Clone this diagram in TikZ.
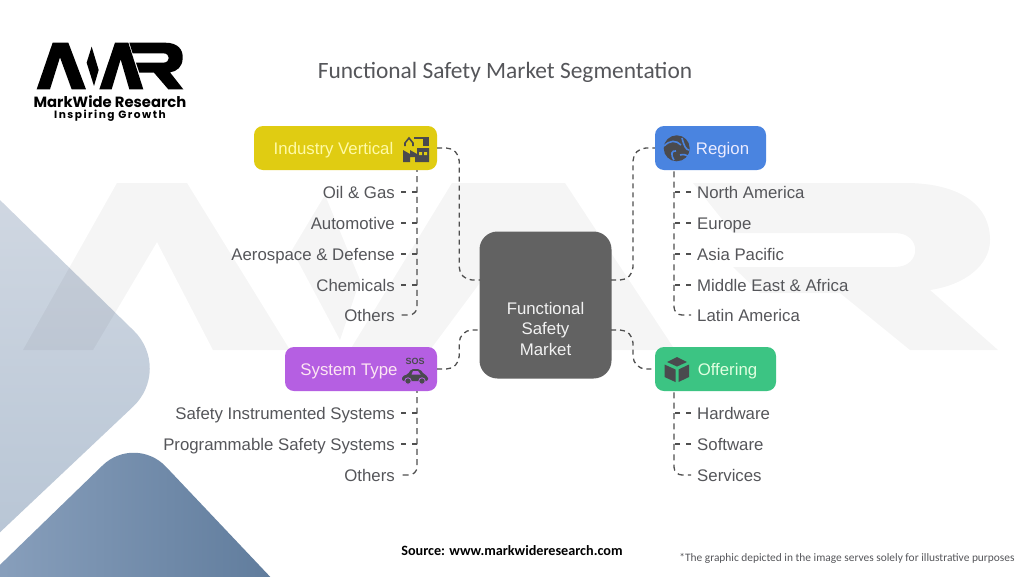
\documentclass[tikz,border=0pt]{standalone}
\usepackage{fontspec}
\setmainfont{Liberation Sans}
\newfontfamily\carlitofont{Carlito}
\newfontfamily\poppinsfont{Poppins}
\newfontfamily\taglinefont[LetterSpace=14]{Poppins}
\definecolor{inkgray}{HTML}{55565A}
\definecolor{icongray}{HTML}{4A4A4E}
\definecolor{linegray}{HTML}{4F4F4F}
\definecolor{boxgray}{HTML}{626262}
\definecolor{boxyellow}{HTML}{E0CC12}
\definecolor{boxblue}{HTML}{4A84E0}
\definecolor{boxpurple}{HTML}{B55FE2}
\definecolor{boxgreen}{HTML}{3CC483}
\definecolor{paletop}{HTML}{D2D9E3}
\definecolor{palefoot}{HTML}{B6C4D4}
\definecolor{deepleft}{HTML}{90A6C2}
\definecolor{deepright}{HTML}{587596}
\tikzset{
  headbox/.style={rounded corners=9pt, minimum height=44pt, inner sep=0pt, text height=16pt, text depth=3.5pt, font=\fontsize{16.8}{20}\selectfont},
  leafleft/.style={anchor=east, inner xsep=6pt, inner ysep=0pt, text=inkgray, text height=16pt, text depth=3.5pt, font=\fontsize{16.8}{20}\selectfont},
  leafright/.style={leafleft, anchor=west},
  dashlink/.style={draw=linegray, line width=1.3pt, dash pattern=on 5pt off 4pt, rounded corners=13pt},
  ticklink/.style={dashlink, dash pattern=on 5pt off 6pt, sharp corners},
  trunkleft/.style={dashlink, dash pattern=on 6pt off 4.33pt, dash phase=4.16pt, rounded corners=8pt},
  trunkright/.style={dashlink, dash pattern=on 6pt off 4.33pt, dash phase=8.99pt, rounded corners=8pt}
}
\begin{document}
\begin{tikzpicture}[x=1pt, y=-1pt]
\useasboundingbox (0,0) rectangle (1024,576);
\fill[white] (0,0) rectangle (1024,576);
% corner shapes
\begin{scope}
\clip (0,0) rectangle (1024,576);
\shade[top color=paletop, bottom color=palefoot, rounded corners=55pt] (-40,161) -- (173,369) -- (-40,570) -- cycle;
\shade[left color=deepleft, right color=deepright, rounded corners=45pt] (-60,623) -- (135,434) -- (330,640) -- cycle;
% faint logo behind
\fill[black, fill opacity=0.04] (23,350) -- (117,183) -- (187,183) -- (290,350) -- (213,350) -- (157,242) -- (93,350) -- cycle
  (325,195) -- (360,280) -- (340,340) -- (292,250) -- cycle
  (350,350) -- (452,183) -- (565,183) -- (675,350) -- (600,350) -- (508,245) -- (430,350) -- cycle
  (693,183) -- (905,183) .. controls (960,183) and (990,205) .. (990,240) .. controls (990,265) and (965,285) .. (930,290) -- (998,350) -- (910,350) -- (840,293) -- (760,293) -- (733,267) -- (895,267) .. controls (922,267) and (922,233) .. (895,233) -- (733,233) -- cycle;
\end{scope}
% logo
\begin{scope}[shift={(0,20)}, scale=0.3333]
\fill[black] (110,208) -- (158,68) -- (205,68) -- (258,208) -- (215,208) -- (180,112) -- (150,208) -- cycle
  (275,80) -- (296,150) -- (282,198) -- (260,128) -- cycle
  (298,208) -- (345,68) -- (385,68) -- (430,208) -- (388,208) -- (362,118) -- (335,208) -- cycle
  (388,68) -- (495,68) .. controls (535,68) and (550,90) .. (548,115) .. controls (548,140) and (530,155) .. (510,157) -- (550,208) -- (505,208) -- (462,158) -- (418,158) -- (408,128) -- (490,128) .. controls (512,128) and (512,100) .. (490,100) -- (398,100) -- cycle;
\end{scope}
\node[font=\poppinsfont\bfseries\fontsize{14.8}{16}\selectfont, inner sep=0pt] (brand) at (110,101.5) {MarkWide Research};
\node[font=\taglinefont\bfseries\fontsize{10.6}{12}\selectfont, inner sep=0pt] (tagline) at (110,115.5) {Inspiring Growth};
% title and notes
\node[font=\carlitofont\fontsize{23.4}{26}\selectfont, text=inkgray, inner sep=0pt] (title) at (505,72) {Functional Safety Market Segmentation};
\node[font=\carlitofont\bfseries\fontsize{14.2}{17}\selectfont, inner sep=0pt] (source) at (512,551) {Source: www.markwideresearch.com};
\node[font=\carlitofont\fontsize{11.4}{14}\selectfont, text=inkgray, inner sep=0pt] (note) at (847,558) {*The graphic depicted in the image serves solely for illustrative purposes};
% boxes
\node[rounded corners=18pt, fill=boxgray, minimum width=132pt, minimum height=147pt, inner sep=0pt, text=white!95!black, align=center, font=\fontsize{16.8}{20.5}\selectfont] (market) at (545.5,305) {\rule{0pt}{60pt}Functional\\Safety\\Market};
\node[headbox, fill=boxyellow, text=yellow!35!white, minimum width=183pt] (industry) at (345.5,148) {Industry Vertical\rule{24pt}{0pt}};
\node[headbox, fill=boxblue, text=blue!8!white, minimum width=111pt] (region) at (710.5,148) {\rule{24pt}{0pt}Region};
\node[headbox, fill=boxpurple, text=magenta!10!white, minimum width=152pt] (system) at (361,369) {System Type\rule{24pt}{0pt}};
\node[headbox, fill=boxgreen, text=green!12!white, minimum width=121pt] (offering) at (715.5,369) {\rule{24pt}{0pt}Offering};
% ends on the middle box
\coordinate (marketA) at (480,280);
\coordinate (marketB) at (611,280);
\coordinate (marketC) at (480,330);
\coordinate (marketD) at (611,330);
\coordinate (industryfoot) at (417,170);
\coordinate (regionfoot) at (674,170);
\coordinate (systemfoot) at (417,391);
\coordinate (offeringfoot) at (674,391);
% items
\node[leafleft] (oil) at (401,192) {Oil \& Gas};
\node[leafleft] (auto) at (401,223) {Automotive};
\node[leafleft] (aero) at (401,254) {Aerospace \& Defense};
\node[leafleft] (chem) at (401,285) {Chemicals};
\node[leafleft] (others) at (401,315) {Others};
\node[leafright] (north) at (691,192) {North America};
\node[leafright] (europe) at (691,223) {Europe};
\node[leafright] (asia) at (691,254) {Asia Pacific};
\node[leafright] (mea) at (691,285) {Middle East \& Africa};
\node[leafright] (latin) at (691,315) {Latin America};
\node[leafleft] (sis) at (401,413) {Safety Instrumented Systems};
\node[leafleft] (pss) at (401,444) {Programmable Safety Systems};
\node[leafleft] (othertype) at (401,475) {Others};
\node[leafright] (hard) at (691,413) {Hardware};
\node[leafright] (soft) at (691,444) {Software};
\node[leafright] (serv) at (691,475) {Services};
% links to the middle box
\draw[dashlink] (industry.east) -- ++(22,0) |- (marketA);
\draw[dashlink] (marketB) -- ++(22,0) |- (region.west);
\draw[dashlink] (system.east) -- ++(22,0) |- (marketC);
\draw[dashlink] (marketD) -- ++(22,0) |- (offering.west);
% links to the items
\draw[trunkleft] (industryfoot) |- (others.east);
\draw[ticklink] (oil.east) -- (oil.east -| industryfoot);
\draw[ticklink] (auto.east) -- (auto.east -| industryfoot);
\draw[ticklink] (aero.east) -- (aero.east -| industryfoot);
\draw[ticklink] (chem.east) -- (chem.east -| industryfoot);
\draw[trunkright] (regionfoot) |- (latin.west);
\draw[ticklink] (north.west) -- (north.west -| regionfoot);
\draw[ticklink] (europe.west) -- (europe.west -| regionfoot);
\draw[ticklink] (asia.west) -- (asia.west -| regionfoot);
\draw[ticklink] (mea.west) -- (mea.west -| regionfoot);
\draw[trunkleft] (systemfoot) |- (othertype.east);
\draw[ticklink] (sis.east) -- (sis.east -| systemfoot);
\draw[ticklink] (pss.east) -- (pss.east -| systemfoot);
\draw[trunkright] (offeringfoot) |- (serv.west);
\draw[ticklink] (hard.west) -- (hard.west -| offeringfoot);
\draw[ticklink] (soft.west) -- (soft.west -| offeringfoot);
% factory icon
\fill[icongray] (403,162) -- (403,150) -- (410,154) -- (410,150) -- (417,154) -- (417,148) -- (429,148) -- (429,162) -- (415,162) -- (415,157) -- (410,157) -- (410,162) -- cycle;
\fill[boxyellow] (419,152) rectangle (422,155) (424,152) rectangle (427,155);
\fill[icongray] (423,137) rectangle (429,146);
\draw[icongray, line width=1.4pt] (423,138) -- (414,138);
\draw[icongray, line width=1.6pt] (405,146) -- (405,143) -- (409,138) -- (413,143) -- (413,146);
% sos car icon
\node[font=\bfseries\fontsize{9}{10}\selectfont, text=icongray, inner sep=0pt] (sos) at (415,361) {SOS};
\fill[icongray, rounded corners=2pt] (402,381) -- (402,376) -- (408,374.5) -- (411,369) -- (420,369) -- (424,374.5) -- (428,376) -- (428,381) -- cycle;
\fill[boxpurple] (411.5,374.5) -- (413,371) -- (418,371) -- (420.5,374.5) -- cycle;
\fill[icongray, draw=boxpurple, line width=0.8pt] (408,381) circle (3.2pt) (422,381) circle (3.2pt);
% globe icon
\fill[icongray] (676.7,148.3) circle (13pt);
\draw[boxblue, line width=1.6pt] (664,146) .. controls (670,140) and (676,140) .. (681,145) (674,160) .. controls (670,154) and (672,150) .. (676,151) (682,138) .. controls (684,146) and (686,150) .. (689,150) (680,155) .. controls (684,154) and (686,155) .. (688,156);
% box icon
\fill[icongray] (677,357) -- (687,362) -- (677,366.5) -- (667,362) -- cycle;
\fill[icongray] (664.5,364.5) -- (675.5,369.5) -- (675.5,382) -- (664.5,377) -- cycle;
\fill[icongray] (678.5,369.5) -- (689,364.5) -- (689,377) -- (678.5,382) -- cycle;
\end{tikzpicture}
\end{document}
